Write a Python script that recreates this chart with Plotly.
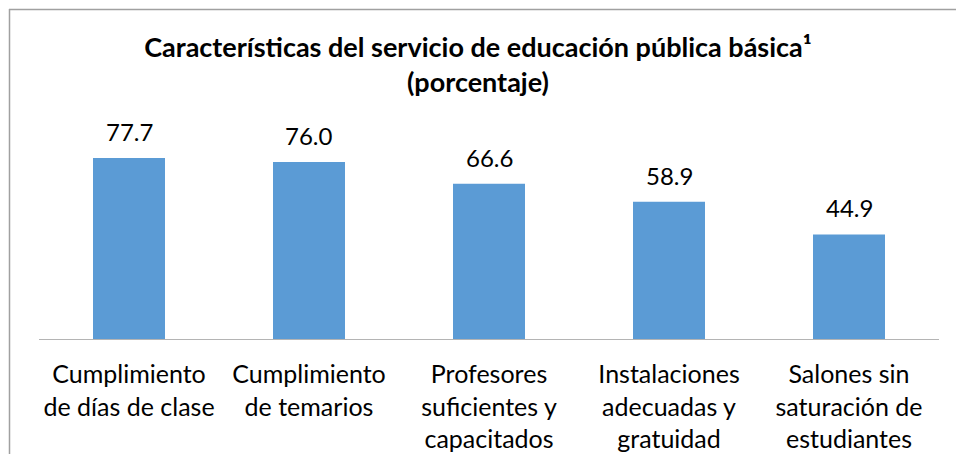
import plotly.graph_objects as go

categories = [
    "Cumplimiento<br>de días de clase",
    "Cumplimiento<br>de temarios",
    "Profesores<br>suficientes y<br>capacitados",
    "Instalaciones<br>adecuadas y<br>gratuidad",
    "Salones sin<br>saturación de<br>estudiantes",
]
values = [77.7, 76.0, 66.6, 58.9, 44.9]
value_labels = [f"{v:.1f}" for v in values]

W, H = 956, 454
L, R, T, B = 39, 17, 106, 115
plot_h = H - T - B
plot_w = W - L - R

fig = go.Figure()
fig.add_trace(go.Bar(
    x=categories, y=values, width=0.4,
    marker=dict(color="#5B9BD5", line=dict(width=0)),
    hoverinfo="skip",
))

for c, v, t in zip(categories, values, value_labels):
    fig.add_annotation(x=c, y=v, text=t, showarrow=False, yanchor="bottom",
                       yshift=10, font=dict(family="Lato", size=24, color="#000000"))

# chart border (left and top edges visible)
px = lambda x: (x - L) / plot_w
py = lambda y: (H - B - y) / plot_h
fig.add_shape(type="line", xref="paper", yref="paper", x0=px(9.5), x1=px(9.5), y0=py(9), y1=py(470),
              line=dict(color="#a0a0a0", width=1.5))
fig.add_shape(type="line", xref="paper", yref="paper", x0=px(9), x1=px(970), y0=py(9.5), y1=py(9.5),
              line=dict(color="#a0a0a0", width=1.5))

fig.update_layout(
    width=W, height=H,
    margin=dict(l=L, r=R, t=T, b=B, autoexpand=False),
    paper_bgcolor="white", plot_bgcolor="white",
    showlegend=False,
    title=dict(text="<b>Características del servicio de educación pública básica¹<br>(porcentaje)</b>",
               x=0.5, xanchor="center", y=1 - 57 / H, yanchor="middle",
               font=dict(family="Lato", size=27, color="#000000")),
    xaxis=dict(showline=True, linecolor="#b4b4b4", linewidth=1, ticks="", showgrid=False,
               tickfont=dict(family="Lato", size=25, color="#000000"), tickangle=0,
               ticklabelstandoff=13, automargin=False, fixedrange=True),
    yaxis=dict(range=[0, 100], visible=False, automargin=False, fixedrange=True),
)
fig.write_html("out.html", config={"displayModeBar": False},
               post_script="document.body.style.margin='0';document.body.style.overflow='hidden';")
